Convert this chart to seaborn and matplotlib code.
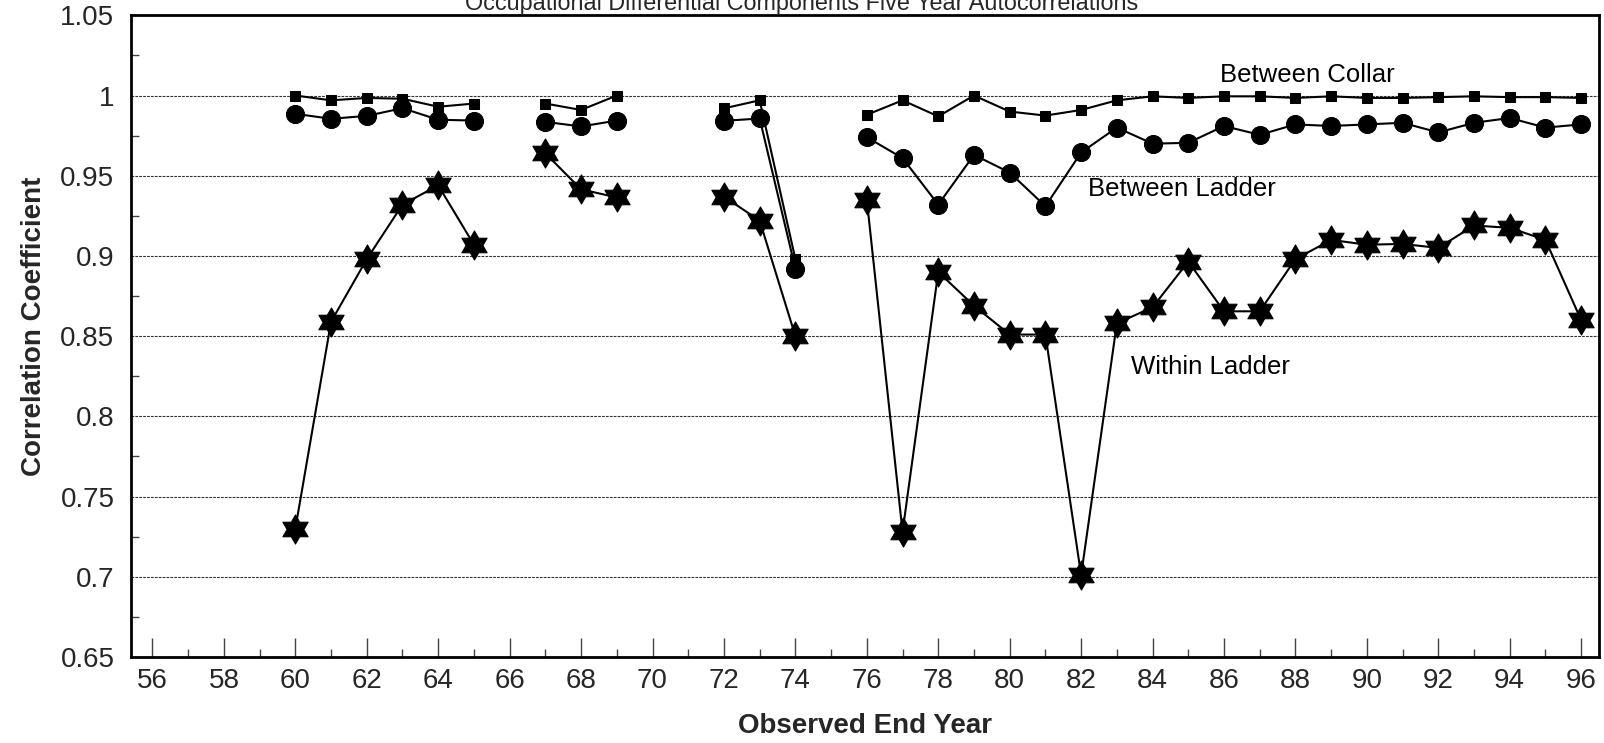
import numpy as np
import pandas as pd
import matplotlib
matplotlib.use("Agg")
import matplotlib.pyplot as plt
import seaborn as sns
from matplotlib.path import Path
from matplotlib.ticker import MultipleLocator, FuncFormatter

# ---------------- data ----------------
years = list(range(60, 97))
nan = np.nan
between_collar = [1.000, 0.997, 0.9985, 0.998, 0.993, 0.995, nan,
                  0.995, 0.991, 1.000, nan, nan,
                  0.992, 0.997, 0.898, nan,
                  0.988, 0.997, 0.987, 1.000, 0.990, 0.9875, 0.991, 0.997, 0.9995,
                  0.9985, 0.9995, 0.9995, 0.9985, 0.9995, 0.9985, 0.9985, 0.999,
                  0.9995, 0.999, 0.999, 0.9985]
between_ladder = [0.9886, 0.9855, 0.9873, 0.9921, 0.9849, 0.9844, nan,
                  0.9836, 0.9807, 0.9844, nan, nan,
                  0.9842, 0.9857, 0.892, nan,
                  0.974, 0.961, 0.932, 0.963, 0.952, 0.931, 0.9645, 0.980, 0.970,
                  0.9705, 0.981, 0.9755, 0.982, 0.981, 0.982, 0.983, 0.977,
                  0.983, 0.986, 0.980, 0.982]
within_ladder = [0.730, 0.859, 0.898, 0.932, 0.944, 0.907, nan,
                 0.964, 0.9415, 0.9365, nan, nan,
                 0.937, 0.922, 0.850, nan,
                 0.935, 0.728, 0.890, 0.869, 0.851, 0.851, 0.701, 0.858, 0.868,
                 0.8965, 0.8655, 0.8655, 0.898, 0.910, 0.907, 0.9075, 0.905,
                 0.919, 0.9175, 0.910, 0.860]
x_ticks = list(range(56, 97, 2))
y_ticks = [0.65, 0.7, 0.75, 0.8, 0.85, 0.9, 0.95, 1.0, 1.05]
title = "Occupational Differential Components Five Year Autocorrelations"
xlabel = "Observed End Year"
ylabel = "Correlation Coefficient"
labels = [("Between Collar", 85.9, 1.013),
          ("Between Ladder", 82.2, 0.942),
          ("Within Ladder", 83.4, 0.831)]

# ---------------- style ----------------
sns.set_theme(style="white")
plt.rcParams["font.family"] = ["Liberation Sans", "DejaVu Sans"]

# six-pointed star marker
a_out = np.deg2rad(90 + 60 * np.arange(6))
a_in = np.deg2rad(120 + 60 * np.arange(6))
r_in = 1 / np.sqrt(3)
verts = []
for ao, ai in zip(a_out, a_in):
    verts.append((np.cos(ao), np.sin(ao)))
    verts.append((r_in * np.cos(ai), r_in * np.sin(ai)))
verts.append(verts[0])
codes = [Path.MOVETO] + [Path.LINETO] * (len(verts) - 2) + [Path.CLOSEPOLY]
hexagram = Path(verts, codes)

fig = plt.figure(figsize=(16.04, 7.43), dpi=100)
ax = fig.add_axes([0.0817, 0.1157, 0.9969 - 0.0817, 0.9794 - 0.1157])


def draw(vals, marker, ms, z):
    df = pd.DataFrame({"year": years, "value": vals})
    df["seg"] = df["value"].isna().cumsum()
    df = df.dropna()
    sns.lineplot(data=df, x="year", y="value", units="seg", estimator=None,
                 sort=False, color="black", lw=1.5, marker=marker,
                 markersize=ms, markerfacecolor="black",
                 markeredgecolor="black", legend=False, ax=ax, zorder=z)


draw(within_ladder, hexagram, 21, 3)
draw(between_ladder, "o", 13, 4)
draw(between_collar, "s", 6.5, 5)

for txt, xx, yy in labels:
    ax.text(xx, yy, txt, ha="left", va="center", fontsize=18.5, color="black")

ax.set_xlim(55.4, 96.5)
ax.set_ylim(0.65, 1.05)
ax.set_xticks(x_ticks)
ax.xaxis.set_minor_locator(MultipleLocator(1))
ax.set_yticks(y_ticks)
ax.yaxis.set_minor_locator(MultipleLocator(0.025))
ax.yaxis.set_major_formatter(FuncFormatter(lambda v, p: f"{v:g}"))

ax.tick_params(axis="x", which="major", direction="in", length=14, width=1,
               color="#444444", labelsize=20, pad=8, bottom=True)
ax.tick_params(axis="x", which="minor", direction="in", length=6, width=1,
               color="#444444", bottom=True)
ax.tick_params(axis="y", which="major", direction="in", length=0,
               labelsize=20, pad=12, left=True)
ax.tick_params(axis="y", which="minor", direction="in", length=6, width=1,
               color="#444444", left=True)

ax.yaxis.grid(True, which="major", linestyle=(0, (2.5, 1)), color="#333333", lw=0.8)
ax.xaxis.grid(False)

for side in ["left", "bottom", "top", "right"]:
    ax.spines[side].set_visible(True)
    ax.spines[side].set_color("black")
    ax.spines[side].set_linewidth(2)

ax.set_xlabel(xlabel, fontsize=20, fontweight="bold")
ax.set_ylabel(ylabel, fontsize=20, fontweight="bold")
ax.xaxis.set_label_coords(0.5, -0.087)
ax.yaxis.set_label_coords(-0.057, 0.516)

fig.text(0.5, 0.9865, title, ha="center", va="baseline", fontsize=16.8)

fig.savefig("out.png", dpi=100)
